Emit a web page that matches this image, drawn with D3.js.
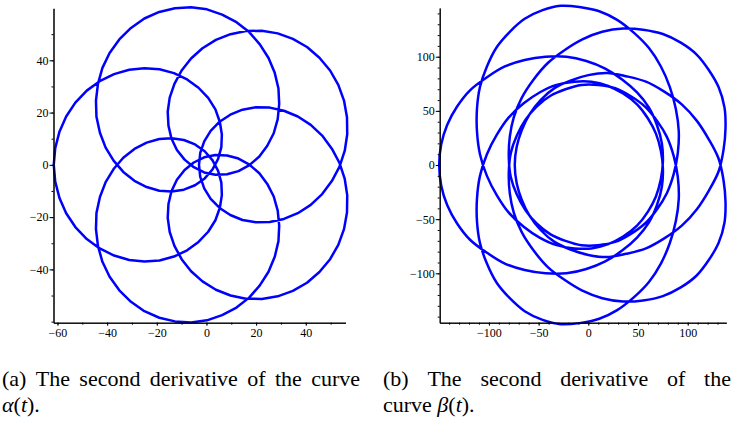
<!DOCTYPE html>
<html>
<head>
<meta charset="utf-8">
<style>
  body { margin: 0; background: #fff; }
  svg { display: block; }
  .axis path, .axis line { stroke: #000; }
  .cap { font-family: "Liberation Serif", serif; font-size: 22px; fill: #000; }
  .curve { fill: none; stroke: #0000ff; stroke-width: 2.5px; stroke-linejoin: round; }
</style>
</head>
<body>
<script src="https://d3js.org/d3.v7.min.js"></script>
<script>
// points, t = 0 .. 2pi in 200 steps
var alphaPoints = [
  [-3.0,0.0],[-2.5,-4.6],[-0.9,-9.0],[1.7,-13.0],[5.3,-16.5],[9.6,-19.2],[14.5,-21.1],[19.9,-22.0],
  [25.5,-21.9],[31.2,-20.7],[36.8,-18.5],[42.0,-15.3],[46.6,-11.2],[50.5,-6.2],[53.6,-0.7],[55.7,5.4],
  [56.7,11.7],[56.6,18.2],[55.4,24.6],[53.1,30.6],[49.8,36.1],[45.5,41.0],[40.5,45.1],[34.8,48.2],
  [28.7,50.3],[22.3,51.3],[15.9,51.2],[9.7,50.0],[3.8,47.8],[-1.6,44.6],[-6.2,40.7],[-10.0,36.1],
  [-12.9,31.0],[-14.8,25.7],[-15.6,20.3],[-15.3,15.0],[-14.1,10.1],[-11.9,5.7],[-8.8,2.0],[-5.1,-0.9],
  [-0.9,-2.9],[3.6,-3.8],[8.3,-3.6],[12.9,-2.4],[17.3,-0.1],[21.3,3.2],[24.5,7.3],[27.1,12.1],
  [28.7,17.5],[29.3,23.3],[29.0,29.2],[27.5,35.2],[25.0,40.9],[21.5,46.1],[17.2,50.8],[12.1,54.6],
  [6.3,57.5],[0.2,59.5],[-6.2,60.3],[-12.7,59.9],[-19.0,58.5],[-25.0,56.0],[-30.4,52.4],[-35.1,48.0],
  [-39.0,42.8],[-41.9,37.1],[-43.7,31.0],[-44.5,24.6],[-44.3,18.4],[-42.9,12.3],[-40.6,6.6],[-37.4,1.6],
  [-33.5,-2.7],[-29.0,-6.1],[-24.1,-8.5],[-19.0,-9.9],[-14.0,-10.2],[-9.1,-9.5],[-4.6,-7.8],[-0.7,-5.2],
  [2.4,-1.8],[4.7,2.3],[6.0,6.8],[6.2,11.6],[5.4,16.4],[3.6,21.2],[0.7,25.6],[-3.2,29.5],
  [-7.8,32.7],[-13.1,35.1],[-18.9,36.6],[-25.0,37.0],[-31.1,36.4],[-37.2,34.7],[-43.0,32.0],[-48.2,28.4],
  [-52.8,23.8],[-56.5,18.5],[-59.2,12.7],[-60.9,6.4],[-61.5,0.0],[-60.9,-6.4],[-59.2,-12.7],[-56.5,-18.5],
  [-52.8,-23.8],[-48.2,-28.4],[-43.0,-32.0],[-37.2,-34.7],[-31.1,-36.4],[-25.0,-37.0],[-18.9,-36.6],[-13.1,-35.1],
  [-7.8,-32.7],[-3.2,-29.5],[0.7,-25.6],[3.6,-21.2],[5.4,-16.4],[6.2,-11.6],[6.0,-6.8],[4.7,-2.3],
  [2.4,1.8],[-0.7,5.2],[-4.6,7.8],[-9.1,9.5],[-14.0,10.2],[-19.0,9.9],[-24.1,8.5],[-29.0,6.1],
  [-33.5,2.7],[-37.4,-1.6],[-40.6,-6.6],[-42.9,-12.3],[-44.3,-18.4],[-44.5,-24.6],[-43.7,-31.0],[-41.9,-37.1],
  [-39.0,-42.8],[-35.1,-48.0],[-30.4,-52.4],[-25.0,-56.0],[-19.0,-58.5],[-12.7,-59.9],[-6.2,-60.3],[0.2,-59.5],
  [6.3,-57.5],[12.1,-54.6],[17.2,-50.8],[21.5,-46.1],[25.0,-40.9],[27.5,-35.2],[29.0,-29.2],[29.3,-23.3],
  [28.7,-17.5],[27.1,-12.1],[24.5,-7.3],[21.3,-3.2],[17.3,0.1],[12.9,2.4],[8.3,3.6],[3.6,3.8],
  [-0.9,2.9],[-5.1,0.9],[-8.8,-2.0],[-11.9,-5.7],[-14.1,-10.1],[-15.3,-15.0],[-15.6,-20.3],[-14.8,-25.7],
  [-12.9,-31.0],[-10.0,-36.1],[-6.2,-40.7],[-1.6,-44.6],[3.8,-47.8],[9.7,-50.0],[15.9,-51.2],[22.3,-51.3],
  [28.7,-50.3],[34.8,-48.2],[40.5,-45.1],[45.5,-41.0],[49.8,-36.1],[53.1,-30.6],[55.4,-24.6],[56.6,-18.2],
  [56.7,-11.7],[55.7,-5.4],[53.6,0.7],[50.5,6.2],[46.6,11.2],[42.0,15.3],[36.8,18.5],[31.2,20.7],
  [25.5,21.9],[19.9,22.0],[14.5,21.1],[9.6,19.2],[5.3,16.5],[1.7,13.0],[-0.9,9.0],[-2.5,4.6]
];

var betaPoints = [
  [-74,0],[-72,-17],[-67,-32],[-59,-47],[-48,-60],[-34,-71],[-18,-78],[0,-83],[19,-85],[38,-82],
  [58,-77],[76,-68],[94,-56],[109,-41],[121,-24],[131,-6],[136,14],[138,34],[137,53],[131,72],
  [121,88],[109,102],[93,113],[75,121],[55,125],[35,126],[14,123],[-6,116],[-24,106],[-41,94],
  [-55,79],[-67,62],[-75,44],[-79,26],[-80,7],[-78,-11],[-72,-27],[-63,-42],[-52,-54],[-38,-64],
  [-23,-70],[-7,-74],[10,-74],[27,-71],[42,-64],[57,-54],[69,-41],[79,-26],[86,-8],[90,11],
  [91,31],[88,52],[82,72],[73,91],[61,108],[46,122],[29,134],[11,142],[-9,146],[-28,147],
  [-46,143],[-64,135],[-79,123],[-92,109],[-102,91],[-109,72],[-112,52],[-112,31],[-109,10],[-102,-10],
  [-92,-28],[-80,-44],[-65,-57],[-49,-67],[-32,-74],[-14,-77],[3,-77],[20,-73],[35,-66],[49,-56],
  [60,-43],[68,-29],[73,-13],[75,3],[74,20],[69,37],[61,53],[49,67],[34,79],[17,89],
  [-2,96],[-22,100],[-43,100],[-64,97],[-84,91],[-102,81],[-119,69],[-132,54],[-142,37],[-148,19],
  [-150,0],[-148,-19],[-142,-37],[-132,-54],[-119,-69],[-102,-81],[-84,-91],[-64,-97],[-43,-100],[-22,-100],
  [-2,-96],[17,-89],[34,-79],[49,-67],[61,-53],[69,-37],[74,-20],[75,-3],[73,13],[68,29],
  [60,43],[49,56],[35,66],[20,73],[3,77],[-14,77],[-32,74],[-49,67],[-65,57],[-80,44],
  [-92,28],[-102,10],[-109,-10],[-112,-31],[-112,-52],[-109,-72],[-102,-91],[-92,-109],[-79,-123],[-64,-135],
  [-46,-143],[-28,-147],[-9,-146],[11,-142],[29,-134],[46,-122],[61,-108],[73,-91],[82,-72],[88,-52],
  [91,-31],[90,-11],[86,8],[79,26],[69,41],[57,54],[42,64],[27,71],[10,74],[-7,74],
  [-23,70],[-38,64],[-52,54],[-63,42],[-72,27],[-78,11],[-80,-7],[-79,-26],[-75,-44],[-67,-62],
  [-55,-79],[-41,-94],[-24,-106],[-6,-116],[14,-123],[35,-126],[55,-125],[75,-121],[93,-113],[109,-102],
  [121,-88],[131,-72],[137,-53],[138,-34],[136,-14],[131,6],[121,24],[109,41],[94,56],[76,68],
  [58,77],[38,82],[19,85],[0,83],[-18,78],[-34,71],[-48,60],[-59,47],[-67,32],[-72,17]
];

var alphaXTicks = [-60, -40, -20, 0, 20, 40];
var alphaYTicks = [-40, -20, 0, 20, 40];
var betaXTicks = [-100, -50, 0, 50, 100];
var betaYTicks = [-100, -50, 0, 50, 100];

var capA1 = ["(a)", "The", "second", "derivative", "of", "the", "curve"];
var capB1 = ["(b)", "The", "second", "derivative", "of", "the"];

var width = 733, height = 425;
var svg = d3.select("body").append("svg").attr("width", width).attr("height", height);

var panels = [
  {pts: alphaPoints, xd: [-61.6, 56.0], xr: [53.5, 345.5], yd: [-60.4, 59.9], yr: [322.7, 8.3],
   major: alphaXTicks, minorX: d3.range(-60, 51, 10),
   majorY: alphaYTicks, minorY: d3.range(-60, 60, 10), curve: d3.curveLinearClosed},
  {pts: betaPoints, xd: [-149.5, 138.8], xr: [439.7, 726.3], yd: [-145.6, 145.0], yr: [322.7, 8.0],
   major: betaXTicks, minorX: d3.range(-140, 131, 10),
   majorY: betaYTicks, minorY: d3.range(-140, 141, 10), curve: d3.curveCatmullRomClosed}
];

function fmt(d) { return d < 0 ? "\u2212" + (-d) : "" + d; }

panels.forEach(function(p) {
  var x = d3.scaleLinear().domain(p.xd).range(p.xr);
  var y = d3.scaleLinear().domain(p.yd).range(p.yr);
  var g = svg.append("g");

  g.append("path").datum(p.pts).attr("class", "curve")
    .attr("d", d3.line().x(function(d) { return x(d[0]); }).y(function(d) { return y(d[1]); }).curve(p.curve));

  // minor ticks first, then the labelled ones
  g.append("g").attr("class", "axis").attr("transform", "translate(0," + p.yr[0] + ")")
    .call(d3.axisBottom(x).tickValues(p.minorX).tickSize(2).tickSizeOuter(0).tickFormat(""));
  g.append("g").attr("class", "axis").attr("transform", "translate(0," + p.yr[0] + ")")
    .call(d3.axisBottom(x).tickValues(p.major).tickSize(3).tickSizeOuter(0).tickPadding(3).tickFormat(fmt));
  g.append("g").attr("class", "axis").attr("transform", "translate(" + p.xr[0] + ",0)")
    .call(d3.axisLeft(y).tickValues(p.minorY).tickSize(2).tickSizeOuter(0).tickFormat(""));
  g.append("g").attr("class", "axis").attr("transform", "translate(" + p.xr[0] + ",0)")
    .call(d3.axisLeft(y).tickValues(p.majorY).tickSize(4).tickSizeOuter(0).tickPadding(1).tickFormat(fmt));
});
svg.selectAll(".axis text")
  .style("font-family", "'Liberation Serif', 'Times New Roman', serif")
  .style("font-size", "12px")
  .style("fill", "#000");

// justified first caption lines
function justify(words, x0, x1, yb) {
  var t = svg.append("text").attr("class", "cap").attr("y", yb);
  var spans = words.map(function(w) { return t.append("tspan").text(w); });
  var w = spans.map(function(s) { return s.node().getComputedTextLength(); });
  var gap = (x1 - x0 - d3.sum(w)) / (words.length - 1);
  var xx = x0;
  spans.forEach(function(s, i) { s.attr("x", xx); xx += w[i] + gap; });
}
function mathLine(parts, x0, yb) {
  var t = svg.append("text").attr("class", "cap").attr("x", x0).attr("y", yb);
  parts.forEach(function(pp) { t.append("tspan").attr("font-style", pp[1] ? "italic" : null).text(pp[0]); });
}

justify(capA1, 2, 360, 386);
mathLine([["\u03b1", 1], ["(", 0], ["t", 1], [").", 0]], 2, 412);
justify(capB1, 383, 731, 386);
mathLine([["curve ", 0], ["\u03b2", 1], ["(", 0], ["t", 1], [").", 0]], 383, 412);
</script>
</body>
</html>
